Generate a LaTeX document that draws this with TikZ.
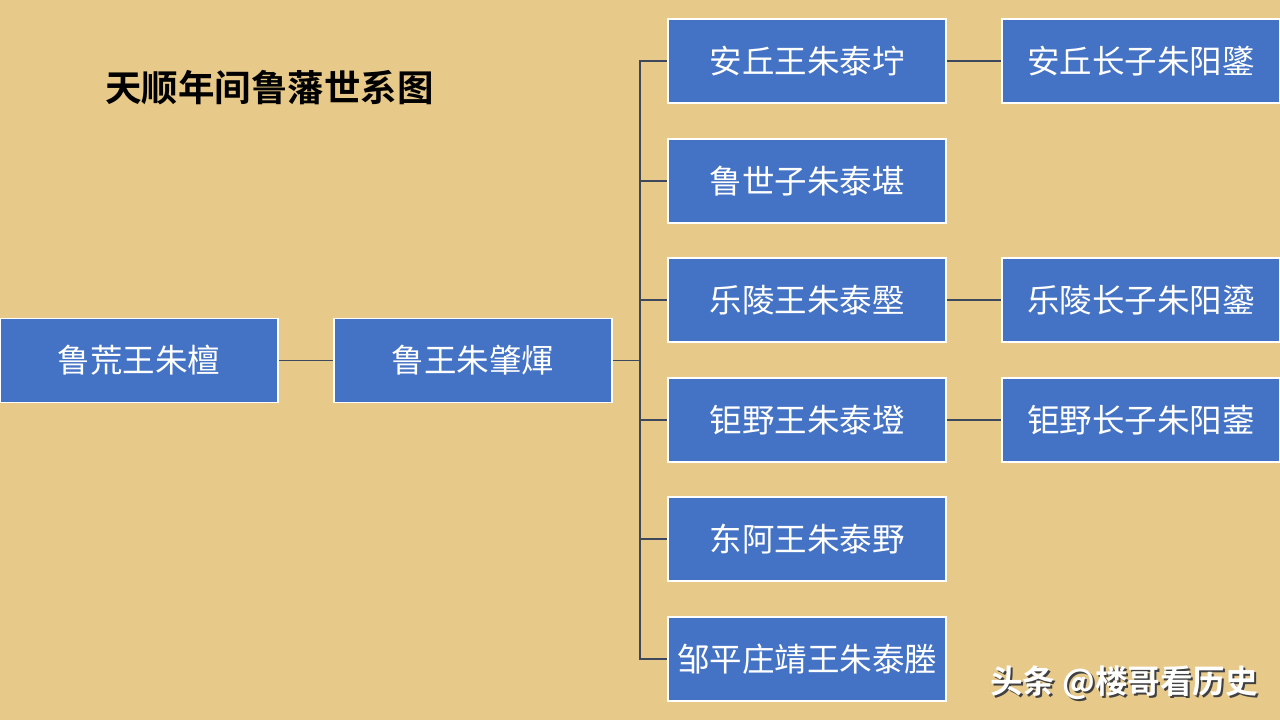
\documentclass[tikz,border=0pt]{standalone}
\usepackage{fontspec}
\newfontfamily\cjk{Noto Sans CJK SC}
\newfontfamily\cjkb{Noto Sans CJK SC Bold}
\definecolor{parch}{RGB}{231,201,138}
\definecolor{boxblue}{RGB}{68,114,196}
\definecolor{linec}{RGB}{62,72,92}
\tikzset{
  person/.style={draw=white, line width=1.5pt, fill=boxblue, text=white,
    minimum width=278pt, minimum height=84pt, inner sep=0pt,
    font=\cjk\fontsize{32.5}{36}\selectfont},
  link/.style={draw=linec, line width=1.1pt}
}
\begin{document}
\begin{tikzpicture}[x=1pt,y=-1pt]
\useasboundingbox (0,0) rectangle (1280,720);
\fill[parch] (0,0) rectangle (1280,720);

\node[anchor=west, font=\cjkb\fontsize{36.5}{40}\selectfont, text=black, inner sep=0pt] (title) at (105,88) {天顺年间鲁藩世系图};

\node[person] (huang) at (139,360.5) {鲁荒王朱檀};
\node[person] (jing) at (473,360.5) {鲁王朱肇煇};

\node[person] (a1) at (807,61) {安丘王朱泰坾};
\node[person] (a2) at (807,181) {鲁世子朱泰堪};
\node[person] (a3) at (807,300) {乐陵王朱泰壂};
\node[person] (a4) at (807,420) {钜野王朱泰墱};
\node[person] (a5) at (807,539) {东阿王朱泰野};
\node[person] (a6) at (807,659) {邹平庄靖王朱泰塍};

\node[person] (b1) at (1141,61) {安丘长子朱阳鐆};
\node[person] (b3) at (1141,300) {乐陵长子朱阳鎏};
\node[person] (b4) at (1141,420) {钜野长子朱阳蓥};

\coordinate (bus) at (640,360.5);
\draw[link] (huang.east) -- (jing.west);
\draw[link] (jing.east) -- (bus);
\foreach \c in {a1,a2,a3,a4,a5,a6} { \draw[link] (bus) |- (\c.west); }
\draw[link] (a1.east) -- (b1.west);
\draw[link] (a3.east) -- (b3.west);
\draw[link] (a4.east) -- (b4.west);

\node[anchor=west, inner sep=0pt, text=black!75, font=\cjkb\fontsize{32.5}{36}\selectfont] (wmshadow) at (992,685) {头条 @楼哥看历史};
\node[anchor=west, inner sep=0pt, text=white, font=\cjkb\fontsize{32.5}{36}\selectfont] (wm) at (990,683) {头条 @楼哥看历史};
\end{tikzpicture}
\end{document}
